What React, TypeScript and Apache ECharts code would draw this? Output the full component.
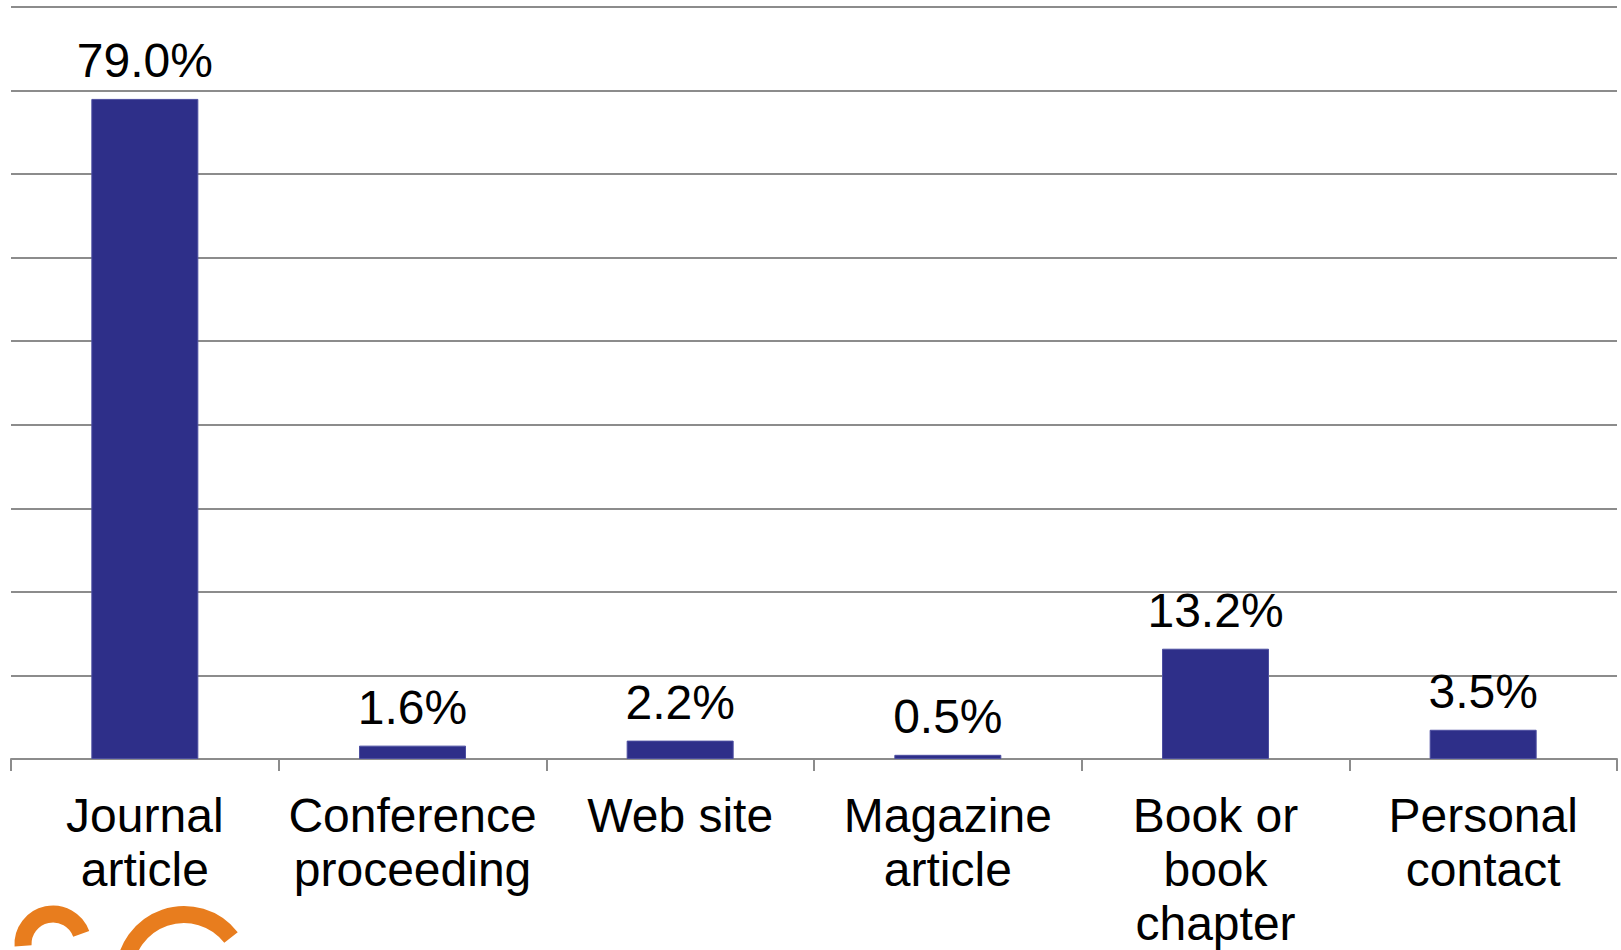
import React, { useEffect, useRef } from "react";
import * as echarts from "echarts";

const categories: string[] = [
  "Journal\narticle",
  "Conference\nproceeding",
  "Web site",
  "Magazine\narticle",
  "Book or\nbook\nchapter",
  "Personal\ncontact",
];
const shares: number[] = [79.0, 1.6, 2.2, 0.5, 13.2, 3.5];
const axisMax = 90;
const axisStep = 10;

const FONT = '"Liberation Sans", Arial, Helvetica, sans-serif';

export default function App() {
  const ref = useRef<HTMLDivElement>(null);
  useEffect(() => {
    document.body.style.margin = "0";
    if (!ref.current) return;
    const chart = echarts.init(ref.current, null, { renderer: "svg" });
    chart.setOption({
      animation: false,
      backgroundColor: "#ffffff",
      grid: { left: 11, right: 4, top: 7, bottom: 189, containLabel: false },
      xAxis: {
        type: "category",
        data: categories,
        boundaryGap: true,
        axisLine: { show: true, lineStyle: { color: "#8c8c8c", width: 2 } },
        axisTick: { show: true, interval: 0, length: 12, lineStyle: { color: "#8c8c8c", width: 2 } },
        axisLabel: {
          interval: 0,
          margin: 29,
          color: "#000000",
          fontSize: 48,
          lineHeight: 54,
          fontFamily: FONT,
          verticalAlign: "top",
        },
      },
      yAxis: {
        type: "value",
        min: 0,
        max: axisMax,
        interval: axisStep,
        axisLine: { show: false },
        axisTick: { show: false },
        axisLabel: { show: false },
        splitLine: { show: true, lineStyle: { color: "#8c8c8c", width: 2 } },
      },
      series: [
        {
          type: "bar",
          data: shares,
          barWidth: 107,
          itemStyle: { color: "#2e2f89", borderColor: "#4c4ea0", borderWidth: 1 },
          label: {
            show: true,
            position: "top",
            distance: 14,
            color: "#000000",
            fontSize: 48,
            fontFamily: FONT,
            formatter: (p: any) => Number(p.value).toFixed(1) + "%",
          },
        },
      ],
      graphic: [
        {
          type: "arc",
          shape: { cx: 53, cy: 944, r: 30, startAngle: Math.PI * 0.98, endAngle: Math.PI * 1.89, clockwise: true },
          style: { stroke: "#e87d1e", lineWidth: 17, fill: "none" },
        },
        {
          type: "arc",
          shape: { cx: 184, cy: 974, r: 59.5, startAngle: Math.PI * 1.0, endAngle: Math.PI * 1.79, clockwise: true },
          style: { stroke: "#e87d1e", lineWidth: 17, fill: "none" },
        },
      ],
    });
    return () => chart.dispose();
  }, []);
  return <div ref={ref} style={{ width: 1621, height: 950 }} />;
}
